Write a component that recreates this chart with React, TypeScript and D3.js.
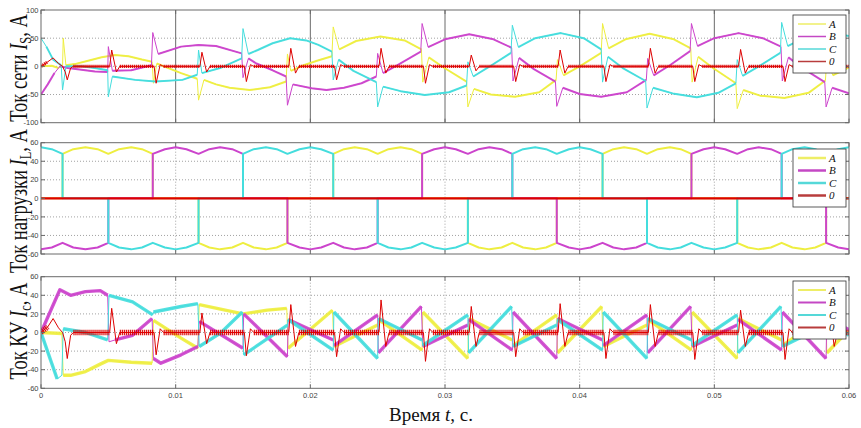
import React from "react";
import * as d3 from "d3";

type P = [number, number];

// ---------- axes / labels ----------
const timeTicks = [0, 0.01, 0.02, 0.03, 0.04, 0.05, 0.06];
const timeTickLabels = ["0", "0.01", "0.02", "0.03", "0.04", "0.05", "0.06"];
const gridTicks = [-100, -50, 0, 50, 100];
const loadTicks = [-60, -40, -20, 0, 20, 40, 60];
const compTicks = [-60, -40, -20, 0, 20, 40, 60];
const seriesNames = ["A", "B", "C", "0"];
const seriesColors = ["#eeee40", "#cc44cc", "#44dddd", "#dd0000"];
const legendColors = ["#eeee66", "#c448c4", "#55d8d8", "#b83c3c"];
const xAxisTitle = "Время ";
const yTitles = [
  { main: "Ток сети ", sub: "S" },
  { main: "Ток нагрузки ", sub: "L" },
  { main: "Ток КУ ", sub: "c" },
];

// ---------- panel 1 : grid current Is (t in ms, value in A) ----------
const isA: P[] = [[0,0],[0.8,1],[1.3,-3],[1.6,0],[1.65,50],[1.85,2],[2.5,4],[3.5,10],[4.5,16],[5.5,20],[6.5,18],[7.5,12],[8.25,8],[8.35,-30],[8.6,5],[10.4,-12],[11.6,-22],[11.7,-60],[12.1,-24],[13,-32],[14,-38],[15.5,-42],[17,-37],[18.2,-27],[18.3,22],[18.55,-8],[19.5,2],[20.5,10],[21.6,18],[21.7,70],[22.15,30],[23.4,45],[25.2,53],[27,46],[28.25,30],[28.35,-28],[28.8,16],[29.9,-2],[31.6,-27],[31.7,-72],[32.15,-40],[33.4,-50],[35.2,-54],[37,-46],[38.25,-24],[38.35,12],[38.8,-16],[40,0],[41.6,24],[41.7,76],[42.15,32],[43.4,48],[45.2,58],[47,48],[48.25,32],[48.35,-28],[48.8,17],[49.9,-3],[51.6,-30],[51.7,-75],[52.15,-42],[53.4,-52],[55.2,-56],[57,-47],[58.25,-25],[58.35,13],[58.8,-16],[60,-2]];
const isB: P[] = [[0,-50],[0.5,-32],[1.0,-12],[1.4,0],[2,-3],[3,-6],[4,-9],[4.95,-10],[5.0,35],[5.3,-8],[6.7,-7],[8.2,2],[8.3,60],[8.7,22],[10.4,35],[11.7,38],[13,36],[14.9,23],[15.0,-20],[15.4,14],[16,5],[17.2,-7],[18.2,-18],[18.3,-69],[18.7,-32],[20.1,-39],[21.2,-42],[22.5,-38],[23.8,-30],[24.9,-18],[25.0,23],[25.4,-12],[26.6,4],[28.2,26],[28.3,76],[28.75,34],[30,48],[31.8,57],[33.6,48],[34.95,33],[35.05,-26],[35.5,15],[36.6,-5],[38.2,-27],[38.3,-71],[38.75,-38],[40,-49],[41.6,-54],[43.5,-46],[44.95,-24],[45.05,14],[45.5,-16],[46.7,2],[48.2,27],[48.3,76],[48.75,36],[50,50],[51.8,59],[53.6,50],[54.95,35],[55.05,-26],[55.5,16],[56.6,-4],[58.2,-28],[58.3,-72],[58.75,-38],[60,-48]];
const isC: P[] = [[0,50],[0.4,35],[0.9,12],[1.5,2],[1.6,-42],[1.85,0],[3,0],[4,-3],[4.95,-7],[5.0,-54],[5.3,-18],[7,-24],[8.5,-27],[10.5,-24],[11.6,-15],[11.7,29],[11.95,-12],[13.3,-3],[14.9,14],[15.0,67],[15.4,22],[16.1,29],[17.2,41],[18.5,50],[19.7,46],[20.6,38],[21.6,26],[21.7,-24],[22.1,12],[23.2,-8],[24.9,-28],[25.0,-72],[25.4,-36],[26.7,-44],[28.5,-51],[30.3,-46],[31.6,-34],[31.7,8],[32.1,-18],[33.2,-2],[34.9,24],[35.0,73],[35.45,34],[36.7,50],[38.6,59],[40.3,50],[41.6,30],[41.7,-28],[42.1,17],[43.2,-3],[44.9,-26],[45.0,-74],[45.45,-38],[46.9,-48],[48.7,-55],[50.3,-47],[51.6,-30],[51.7,12],[52.1,-17],[53.3,0],[54.9,24],[55.0,78],[55.45,36],[56.7,51],[58.6,59],[60,54]];
const is0: P[] = [[0,0],[0.5,8],[0.9,15],[1.3,5],[1.6,0],[1.8,-10],[1.95,-24],[2.2,-3],[2.4,0],[5.1,0],[5.25,29],[5.6,-10],[5.85,0],[8.4,0],[8.55,-30],[8.85,3],[9.1,0],[11.8,0],[11.95,25],[12.3,-10],[12.55,0],[15.1,0],[15.25,-27],[15.55,3],[15.8,0],[18.4,0],[18.55,32],[18.9,-12],[19.15,0],[21.8,0],[21.95,-24],[22.25,3],[22.5,0],[25.1,0],[25.25,32],[25.6,-12],[25.85,0],[28.4,0],[28.55,-30],[28.85,3],[29.1,0],[31.8,0],[31.95,20],[32.3,-8],[32.55,0],[35.1,0],[35.25,-27],[35.55,3],[35.8,0],[38.4,0],[38.55,29],[38.9,-12],[39.15,0],[41.8,0],[41.95,-27],[42.25,3],[42.5,0],[45.1,0],[45.25,32],[45.6,-12],[45.85,0],[48.4,0],[48.55,-27],[48.85,3],[49.1,0],[51.8,0],[51.95,30],[52.3,-12],[52.55,0],[55.1,0],[55.25,-27],[55.55,3],[55.8,0],[58.4,0],[58.55,30],[58.9,-12],[59.15,0],[60,0]];

// ---------- panel 2 : load current IL ----------
const ilA: P[] = [[0,0],[1.6,0],[1.6,48],[2.4,53],[3.3,55],[4.2,53],[5.0,48],[5.8,53],[6.7,55],[7.5,53],[8.3,48],[8.3,0],[11.7,0],[11.7,-48],[12.5,-53],[13.3,-55],[14.2,-53],[15.0,-48],[15.8,-53],[16.7,-55],[17.5,-53],[18.3,-48],[18.3,0],[21.7,0],[21.7,48],[22.5,53],[23.3,55],[24.2,53],[25.0,48],[25.8,53],[26.7,55],[27.5,53],[28.3,48],[28.3,0],[31.7,0],[31.7,-48],[32.5,-53],[33.3,-55],[34.2,-53],[35.0,-48],[35.8,-53],[36.7,-55],[37.5,-53],[38.3,-48],[38.3,0],[41.7,0],[41.7,48],[42.5,53],[43.3,55],[44.2,53],[45.0,48],[45.8,53],[46.7,55],[47.5,53],[48.3,48],[48.3,0],[51.7,0],[51.7,-48],[52.5,-53],[53.3,-55],[54.2,-53],[55.0,-48],[55.8,-53],[56.7,-55],[57.5,-53],[58.3,-48],[58.3,0],[60,0]];
const ilB: P[] = [[0,-55],[0.8,-53],[1.6,-48],[2.4,-53],[3.3,-55],[4.2,-53],[5.0,-48],[5.0,0],[8.3,0],[8.3,48],[9.2,53],[10.0,55],[10.8,53],[11.7,48],[12.5,53],[13.3,55],[14.2,53],[15.0,48],[15.0,0],[18.3,0],[18.3,-48],[19.2,-53],[20.0,-55],[20.8,-53],[21.7,-48],[22.5,-53],[23.3,-55],[24.2,-53],[25.0,-48],[25.0,0],[28.3,0],[28.3,48],[29.2,53],[30.0,55],[30.8,53],[31.7,48],[32.5,53],[33.3,55],[34.2,53],[35.0,48],[35.0,0],[38.3,0],[38.3,-48],[39.2,-53],[40.0,-55],[40.8,-53],[41.7,-48],[42.5,-53],[43.3,-55],[44.2,-53],[45.0,-48],[45.0,0],[48.3,0],[48.3,48],[49.2,53],[50.0,55],[50.8,53],[51.7,48],[52.5,53],[53.3,55],[54.2,53],[55.0,48],[55.0,0],[58.3,0],[58.3,-48],[59.2,-53],[60,-55]];
const ilC: P[] = [[0,55],[0.8,53],[1.6,48],[1.6,0],[5.0,0],[5.0,-48],[5.8,-53],[6.7,-55],[7.5,-53],[8.3,-48],[9.2,-53],[10.0,-55],[10.8,-53],[11.7,-48],[11.7,0],[15.0,0],[15.0,48],[15.8,53],[16.7,55],[17.5,53],[18.3,48],[19.2,53],[20.0,55],[20.8,53],[21.7,48],[21.7,0],[25.0,0],[25.0,-48],[25.8,-53],[26.7,-55],[27.5,-53],[28.3,-48],[29.2,-53],[30.0,-55],[30.8,-53],[31.7,-48],[31.7,0],[35.0,0],[35.0,48],[35.8,53],[36.7,55],[37.5,53],[38.3,48],[39.2,53],[40.0,55],[40.8,53],[41.7,48],[41.7,0],[45.0,0],[45.0,-48],[45.8,-53],[46.7,-55],[47.5,-53],[48.3,-48],[49.2,-53],[50.0,-55],[50.8,-53],[51.7,-48],[51.7,0],[55.0,0],[55.0,48],[55.8,53],[56.7,55],[57.5,53],[58.3,48],[59.2,53],[60,55]];
const il0: P[] = [[0,0],[60,0]];

// ---------- panel 3 : compensator current Ic ----------
const icA: P[] = [[0,0],[1.55,-1],[1.65,-46],[2.2,-46],[3.3,-42],[4.4,-34],[5.0,-30],[6.7,-32],[8.25,-33],[8.35,13],[10.4,-6],[11.65,-17],[11.75,30],[15.0,20],[16.8,24],[18.25,26],[18.35,-17],[21.65,24],[21.75,-15],[25.0,8],[25.05,14],[28.3,-19],[28.35,22],[31.7,-28],[31.75,15],[35.0,-8],[35.05,-14],[38.3,19],[38.35,-22],[41.65,28],[41.75,-15],[45.0,8],[45.05,14],[48.3,-19],[48.35,22],[51.7,-28],[51.75,15],[55.0,-8],[55.05,-14],[58.3,19],[58.35,-22],[60,3]];
const icB: P[] = [[0,0],[1.4,46],[2.2,40],[3.3,44],[4.4,45],[4.95,40],[5.05,-10],[5.5,-8],[6.8,-3],[8.25,15],[8.35,-28],[8.9,-33],[10.4,-24],[11.65,-15],[11.75,12],[15.0,-17],[15.05,20],[18.3,-26],[18.35,14],[21.7,-8],[21.75,-14],[25.0,19],[25.05,-22],[28.25,28],[28.35,-15],[31.7,8],[31.75,14],[35.0,-19],[35.05,22],[38.3,-28],[38.35,15],[41.7,-8],[41.75,-14],[45.0,19],[45.05,-22],[48.25,28],[48.35,-15],[51.7,8],[51.75,14],[55.0,-19],[55.05,22],[58.3,-28],[58.35,15],[60,3]];
const icC: P[] = [[0,0],[1.2,-50],[1.55,-46],[1.65,4],[3.3,0],[4.95,-8],[5.05,40],[6.8,33],[8.3,19],[8.35,22],[10.4,28],[11.65,31],[11.75,-15],[13.3,-1],[14.95,22],[15.05,-24],[18.3,8],[18.35,14],[21.7,-19],[21.75,22],[25.0,-28],[25.05,15],[28.3,-8],[28.35,-14],[31.7,19],[31.75,-22],[34.95,28],[35.05,-15],[38.3,8],[38.35,14],[41.7,-19],[41.75,22],[45.0,-28],[45.05,15],[48.3,-8],[48.35,-14],[51.7,19],[51.75,-22],[54.95,28],[55.05,-15],[58.3,8],[58.35,14],[60,-3]];
const ic0: P[] = [[0,0],[0.5,6],[0.9,15],[1.3,5],[1.6,0],[1.8,-10],[1.95,-28],[2.2,-3],[2.4,0],[5.1,0],[5.25,26],[5.6,-12],[5.85,0],[8.4,0],[8.55,-24],[8.85,4],[9.1,0],[11.8,0],[11.95,21],[12.3,-12],[12.55,0],[15.1,0],[15.25,-25],[15.55,4],[15.8,0],[18.4,0],[18.55,30],[18.9,-15],[19.15,0],[21.8,0],[21.95,-26],[22.25,4],[22.5,0],[25.1,0],[25.25,35],[25.6,-15],[25.85,0],[28.4,0],[28.55,-31],[28.85,4],[29.1,0],[31.8,0],[31.95,28],[32.3,-15],[32.55,0],[35.1,0],[35.25,-26],[35.55,4],[35.8,0],[38.4,0],[38.55,31],[38.9,-15],[39.15,0],[41.8,0],[41.95,-28],[42.25,4],[42.5,0],[45.1,0],[45.25,30],[45.6,-15],[45.85,0],[48.4,0],[48.55,-29],[48.85,4],[49.1,0],[51.8,0],[51.95,24],[52.3,-15],[52.55,0],[55.1,0],[55.25,-29],[55.55,4],[55.8,0],[58.4,0],[58.55,27],[58.9,-15],[59.15,0],[60,0]];

// ---------- layout ----------
const W = 861;
const H = 428;
const X0 = 41;
const X1 = 849;

type PanelCfg = {
  id: string;
  top: number;
  bottom: number;
  domain: [number, number];
  ticks: number[];
  series: P[][];
  thin: number;
  thick: number;
  redThick: number;
  solidV: boolean;
  legendTop: number;
  legendW: number;
  title: { main: string; sub: string };
  titleCenter: number;
  xLabels: boolean;
};

const panels: PanelCfg[] = [
  { id: "p1", top: 10, bottom: 122.7, domain: [-100, 100], ticks: gridTicks, series: [isA, isB, isC, is0], thin: 1, thick: 2, redThick: 3.2, solidV: true, legendTop: 15, legendW: 1.5, title: yTitles[0], titleCenter: 68, xLabels: false },
  { id: "p2", top: 142.7, bottom: 254, domain: [-60, 60], ticks: loadTicks, series: [ilA, ilB, ilC, il0], thin: 2, thick: 2, redThick: 2.2, solidV: false, legendTop: 149, legendW: 2.5, title: yTitles[1], titleCenter: 201, xLabels: false },
  { id: "p3", top: 276.7, bottom: 388.3, domain: [-60, 60], ticks: compTicks, series: [icA, icB, icC, ic0], thin: 1, thick: 3.4, redThick: 5.5, solidV: false, legendTop: 281, legendW: 2, title: yTitles[2], titleCenter: 331, xLabels: true },
];

function thickSegments(pts: P[], minDt: number): P[][] {
  const segs: P[][] = [];
  let cur: P[] = [];
  for (let i = 0; i < pts.length - 1; i++) {
    const a = pts[i];
    const b = pts[i + 1];
    if (b[0] - a[0] >= minDt) {
      if (cur.length === 0) cur.push(a);
      cur.push(b);
    } else {
      if (cur.length) segs.push(cur);
      cur = [];
    }
  }
  if (cur.length) segs.push(cur);
  return segs;
}

const x = d3.scaleLinear().domain([0, 0.06]).range([X0, X1]);

function Panel({ cfg }: { cfg: PanelCfg }) {
  const y = d3.scaleLinear().domain(cfg.domain).range([cfg.bottom, cfg.top]);
  const line = d3
    .line<P>()
    .x((d) => x(d[0] / 1000))
    .y((d) => y(d[1]));
  const serif = "'Liberation Serif','Times New Roman',serif";
  const lx = 793;
  const lw = 53;
  const lh = 58;
  const rowGap = 12.5;
  return (
    <g>
      <defs>
        <clipPath id={`clip-${cfg.id}`}>
          <rect x={X0} y={cfg.top} width={X1 - X0} height={cfg.bottom - cfg.top} />
        </clipPath>
      </defs>
      <rect x={X0} y={cfg.top} width={X1 - X0} height={cfg.bottom - cfg.top} fill="#ffffff" />
      {cfg.ticks
        .filter((t) => t !== cfg.domain[0] && t !== cfg.domain[1])
        .map((t) => (
          <line key={`h${t}`} x1={X0} x2={X1} y1={y(t)} y2={y(t)} stroke="#8a8a8a" strokeWidth={0.8} strokeDasharray="1,2" />
        ))}
      {timeTicks.slice(1, -1).map((t) => (
        <line
          key={`v${t}`}
          x1={x(t)}
          x2={x(t)}
          y1={cfg.top}
          y2={cfg.bottom}
          stroke={cfg.solidV ? "#5a5a5a" : "#8a8a8a"}
          strokeWidth={cfg.solidV ? 0.9 : 0.8}
          strokeDasharray={cfg.solidV ? undefined : "1,2"}
        />
      ))}
      <g clipPath={`url(#clip-${cfg.id})`}>
        {cfg.series.map((s, i) => (
          <g key={i}>
            {cfg.thick > cfg.thin &&
              thickSegments(s, 0.5).map((seg, j) => (
                <path
                  key={j}
                  d={line(seg) || ""}
                  fill="none"
                  stroke={seriesColors[i]}
                  strokeWidth={i === 3 ? cfg.redThick : cfg.thick}
                  strokeOpacity={i === 3 ? 0.9 : 0.9}
                  strokeDasharray={i === 3 ? "1.3,0.7" : undefined}
                  strokeLinejoin="round"
                />
              ))}
            <path
              d={line(s) || ""}
              fill="none"
              stroke={seriesColors[i]}
              strokeWidth={i === 3 && cfg.thick === cfg.thin ? cfg.redThick : cfg.thin}
              strokeLinejoin="round"
            />
          </g>
        ))}
      </g>
      <rect x={X0} y={cfg.top} width={X1 - X0} height={cfg.bottom - cfg.top} fill="none" stroke="#6a6a6a" strokeWidth={1} />
      {cfg.ticks.map((t) => (
        <g key={`t${t}`}>
          <line x1={X0} x2={X0 + 4} y1={y(t)} y2={y(t)} stroke="#6a6a6a" />
          <line x1={X1 - 4} x2={X1} y1={y(t)} y2={y(t)} stroke="#6a6a6a" />
          <text x={38.5} y={y(t)} dy="0.35em" textAnchor="end" fontSize={7.5} fill="#444" fontFamily="'Liberation Sans',Arial,sans-serif">
            {t}
          </text>
        </g>
      ))}
      {timeTicks.map((t, i) => (
        <g key={`xt${t}`}>
          <line x1={x(t)} x2={x(t)} y1={cfg.bottom} y2={cfg.bottom - 4} stroke="#6a6a6a" />
          <line x1={x(t)} x2={x(t)} y1={cfg.top} y2={cfg.top + 4} stroke="#6a6a6a" />
          {cfg.xLabels && (
            <text x={x(t)} y={cfg.bottom + 10} textAnchor="middle" fontSize={7.5} fill="#444" fontFamily="'Liberation Sans',Arial,sans-serif">
              {timeTickLabels[i]}
            </text>
          )}
        </g>
      ))}
      <rect x={lx} y={cfg.legendTop} width={lw} height={lh} fill="#ffffff" stroke="#333" strokeWidth={0.8} />
      {seriesNames.map((n, i) => {
        const ry = cfg.legendTop + 9 + i * rowGap;
        return (
          <g key={n}>
            <line x1={lx + 5} x2={lx + 33} y1={ry} y2={ry} stroke={legendColors[i]} strokeWidth={cfg.legendW} />
            <text x={lx + 36} y={ry} dy="0.35em" fontSize={11} fontStyle="italic" fontFamily={serif} fill="#111">
              {n}
            </text>
          </g>
        );
      })}
      <text
        transform={`translate(26.5,${cfg.titleCenter}) rotate(-90) scale(1,1.35)`}
        textAnchor="middle"
        fontSize={18.5}
        fontFamily={serif}
        fill="#111"
      >
        {cfg.title.main}
        <tspan fontStyle="italic">I</tspan>
        <tspan fontSize={12.5} dy={3.5}>
          {cfg.title.sub}
        </tspan>
        <tspan dy={-3.5}>, А</tspan>
      </text>
    </g>
  );
}

export default function App() {
  return (
    <svg
      width={W}
      height={H}
      viewBox={`0 0 ${W} ${H}`}
      style={{ position: "absolute", left: 0, top: 0, background: "#ffffff" }}
      fontFamily="'Liberation Sans',Arial,sans-serif"
    >
      <rect x={0} y={0} width={W} height={H} fill="#ffffff" />
      {panels.map((p) => (
        <Panel key={p.id} cfg={p} />
      ))}
      <text x={431} y={421} textAnchor="middle" fontSize={19} fontFamily="'Liberation Serif','Times New Roman',serif" fill="#111">
        {xAxisTitle}
        <tspan fontStyle="italic">t</tspan>, с.
      </text>
    </svg>
  );
}
